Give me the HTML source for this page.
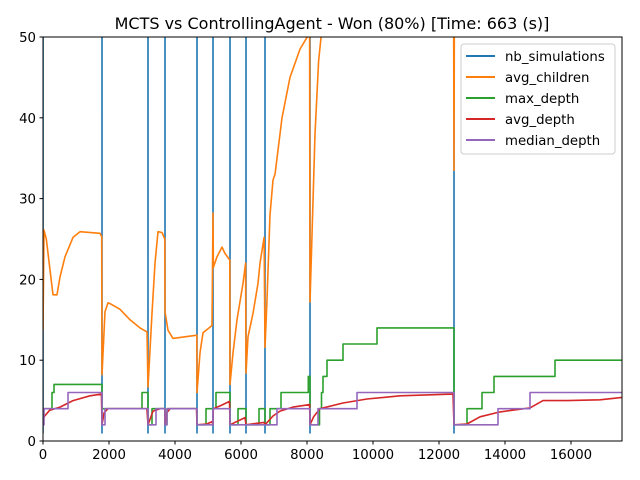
<!DOCTYPE html>
<html><head><meta charset="utf-8"><style>
body{margin:0;background:#fff;}
svg{display:block;font-family:"DejaVu Sans","Liberation Sans",sans-serif;}
</style></head><body>
<svg id="chart" width="640" height="480">
<rect x="0" y="0" width="640" height="480" fill="#fff"/>
<text x="332" y="29" font-size="16" text-anchor="middle">MCTS vs ControllingAgent - Won (80%) [Time: 663 (s)]</text>
<defs><clipPath id="pc"><rect x="43" y="37" width="579" height="404"/></clipPath></defs>
<g id="axes"></g>
<g id="series" clip-path="url(#pc)"></g>
<rect x="43" y="37" width="579" height="404" fill="none" stroke="#000" stroke-width="1"/>
<g id="legend"></g>
</svg>
<script>
const xTicks=[0,2000,4000,6000,8000,10000,12000,14000,16000];
const yTicks=[0,10,20,30,40,50];
const nbSimResets=[0,1788,3182,3697,4667,5152,5667,6152,6727,8091,12455];
const nbSimMin=[1,1,1,1,1,1,1,1,1,1,1];
const avgChildrenX=[0,30,100,303,424,515,667,909,1121,1727,1780,1788,1880,1970,2030,2333,2636,2939,3151,3182,3303,3394,3485,3606,3690,3697,3788,3939,4660,4667,4757,4848,5121,5152,5165,5273,5424,5515,5660,5667,5757,5879,6060,6140,6152,6212,6364,6515,6575,6700,6727,6787,6879,6970,7030,7242,7485,7788,8080,8091,8151,8242,8350,8450,12440,12455,12470,17545];
const avgChildrenY=[13.7,26.1,25,18.1,18.1,20.3,22.8,25.2,25.9,25.7,25.3,8.2,16,17.1,17,16.3,15,14,13.5,6.7,15.8,22,25.9,25.8,25,16,13.7,12.7,13.1,6,10.9,13.4,14.3,28.2,21.5,22.8,24,23.2,22.4,7,10.9,15,19.5,22,8.4,12.9,15.8,19.5,22,25.2,11.6,17.5,28,32.3,33,40,45,48.5,50.5,17.2,25.5,38,47,51,60,33.5,60,60];
const maxDepthX=[0,273,333,1788,3000,3182,3303,3697,3758,4667,4939,5242,5667,5909,6152,6545,6727,6879,7212,8040,8091,8380,8440,8485,8606,9091,10121,12455,12848,13303,13667,15515];
const maxDepthY=[4,6,7,4,6,2,4,2,4,2,4,6,2,4,2,4,2,4,6,8,2,4,6,8,10,12,14,2,4,6,8,10];
const avgDepthX=[0,30,200,364,515,909,1424,1770,1788,1850,1970,3150,3182,3333,3545,3690,3697,3750,3850,4650,4667,4970,5121,5152,5160,5400,5650,5667,6121,6152,6700,6727,6970,7182,7576,8080,8091,8200,8394,9091,9818,10818,12424,12455,12848,13242,13848,14758,15152,15879,16879,17545];
const avgDepthY=[2,3,3.8,4,4.2,5,5.6,5.8,2,3.5,4,4,2,3.7,4,4,2,3.5,4,4,2,2.1,2.4,2,4,4.4,4.9,2,2.9,2,2.3,2,3.1,3.7,4.2,4.5,2,3,4,4.7,5.2,5.6,5.8,2,2.1,3,3.6,4.1,5,5,5.1,5.4];
const medianDepthX=[0,30,758,1788,1879,3182,3424,3697,3758,4667,5152,5667,7091,8091,8333,9515,12455,13788,14758];
const medianDepthY=[2,4,6,2,4,2,4,2,4,2,4,2,4,2,4,6,2,4,6];
const xMaxData=17545;
const legendLabels=["nb_simulations","avg_children","max_depth","avg_depth","median_depth"];
const colors=["#1f77b4","#ff7f0e","#2ca02c","#d62728","#9467bd"];

const NS="http://www.w3.org/2000/svg";
const X0=43,PX=0.033,Y0=441,PY=8.08;
function sx(v){return X0+v*PX;}
function sy(v){return Y0-v*PY;}
function mk(tag,attrs,parent){const e=document.createElementNS(NS,tag);for(const k in attrs)e.setAttribute(k,attrs[k]);parent.appendChild(e);return e;}
const axes=document.getElementById('axes'),ser=document.getElementById('series'),leg=document.getElementById('legend');
xTicks.forEach(t=>{
  const l=mk('line',{x1:sx(t),x2:sx(t),y1:441,y2:444.5,stroke:'#000'},axes);
  
  
  const tx=mk('text',{x:sx(t),y:459,'font-size':13.3,'text-anchor':'middle'},axes);tx.textContent=t;
  
  
});
yTicks.forEach(t=>{
  const l=mk('line',{x1:39.5,x2:43,y1:sy(t),y2:sy(t),stroke:'#000'},axes);
  
  
  const tx=mk('text',{x:36,y:sy(t)+5,'font-size':13.3,'text-anchor':'end'},axes);tx.textContent=t;
  
  
});
function poly(pts,color,name){
  const p=mk('polyline',{points:pts.map(q=>q[0].toFixed(1)+','+q[1].toFixed(1)).join(' '),fill:'none',stroke:color,'stroke-width':1.6,'stroke-linejoin':'round'},ser);
  
  
}
let nb=[];
nbSimResets.forEach((r,i)=>{nb.push([sx(r),sy(1000)]);nb.push([sx(r),sy(nbSimMin[i])]);nb.push([sx(r)+0.5,sy(1000)]);});
poly(nb,colors[0],'nb-simulations-line');
poly(avgChildrenX.map((x,i)=>[sx(x),sy(avgChildrenY[i])]),colors[1],'avg-children-line');
function steps(xs,ys){const o=[];xs.forEach((x,i)=>{if(i>0)o.push([sx(x),sy(ys[i-1])]);o.push([sx(x),sy(ys[i])]);});o.push([sx(xMaxData),sy(ys[ys.length-1])]);return o;}
poly(steps(maxDepthX,maxDepthY),colors[2],'max-depth-line');
poly(avgDepthX.map((x,i)=>[sx(x),sy(avgDepthY[i])]),colors[3],'avg-depth-line');
poly(steps(medianDepthX,medianDepthY),colors[4],'median-depth-line');
const box=mk('rect',{x:461,y:44,width:154,height:110,rx:3,fill:'#fff','fill-opacity':0.8,stroke:'#ccc'},leg);


legendLabels.forEach((lab,i)=>{
  const y=56+i*21;
  const l=mk('line',{x1:466,x2:495,y1:y,y2:y,stroke:colors[i],'stroke-width':2},leg);
  
  
  const t=mk('text',{x:505,y:y+5,'font-size':13.3},leg);t.textContent=lab;
  
  
});
</script>
</body></html>
